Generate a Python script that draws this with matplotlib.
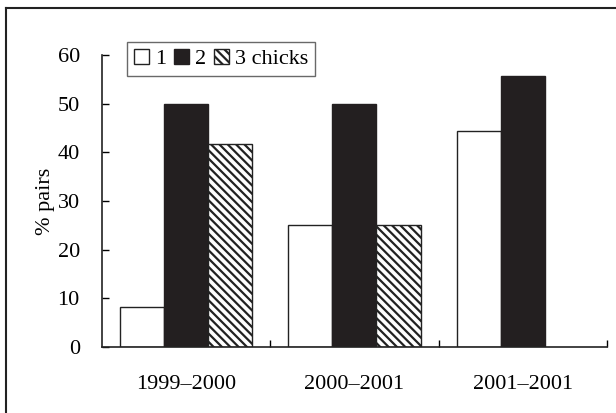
import matplotlib.pyplot as plt
import numpy as np
from matplotlib.lines import Line2D

# data
seasons = ['1999\u20132000', '2000\u20132001', '2001\u20132001']
one_chick = [8.3, 25.0, 44.4]
two_chicks = [50.0, 50.0, 55.6]
three_chicks = [41.7, 25.0, np.nan]
labels = ['1', '2', '3 chicks']
yticks = [0, 10, 20, 30, 40, 50, 60]

plt.rcParams['font.family'] = 'Liberation Serif'
plt.rcParams['hatch.linewidth'] = 1.6

fig = plt.figure(figsize=(6.16, 4.13), dpi=100)
ax = fig.add_axes([0.1656, 0.1598, 0.8194, 0.707])

x = np.arange(len(seasons))
w = 0.262
ax.bar(x - w, one_chick, w, color='white', edgecolor='#222222', linewidth=1, label=labels[0])
ax.bar(x, two_chicks, w, color='#231f20', edgecolor='#231f20', linewidth=1, label=labels[1])
ax.bar(x + w, three_chicks, w, color='white', edgecolor='#222222', hatch='\\\\\\\\', linewidth=1, label=labels[2])

ax.set_xlim(-0.5, 2.5)
ax.set_ylim(0, 60)
ax.set_yticks(yticks)
ax.set_xticks([0.5, 1.5, 2.5])
ax.set_xticklabels([])
ax.set_xticks(x, minor=True)
ax.set_xticklabels(seasons, minor=True, fontsize=16)
ax.tick_params(axis='x', which='minor', length=0, pad=20)
ax.tick_params(axis='x', which='major', direction='in', length=5, width=1)
ax.tick_params(axis='y', direction='in', length=5, width=1, labelsize=16, pad=16)
ax.spines['top'].set_visible(False)
ax.spines['right'].set_visible(False)
for s in ['left', 'bottom']:
    ax.spines[s].set_linewidth(1.2)
    ax.spines[s].set_color('#222222')

ax.set_ylabel('% pairs', fontsize=16, labelpad=2)

leg = ax.legend(loc='upper left', bbox_to_anchor=(0.05, 1.045), ncol=3, frameon=True,
                fancybox=False, edgecolor='#444444', fontsize=16, handlelength=0.7,
                handleheight=0.7, handletextpad=0.25, columnspacing=0.35,
                borderpad=0.3, borderaxespad=0)
leg.get_frame().set_linewidth(1)

# partial outer frame (top and left edges)
fig.add_artist(Line2D([6 / 616, 6 / 616], [0, 1 - 8 / 413], color='#222222', lw=1.5))
fig.add_artist(Line2D([6 / 616, 1], [1 - 8 / 413, 1 - 8 / 413], color='#222222', lw=1.5))

fig.savefig('out.png', dpi=100)
